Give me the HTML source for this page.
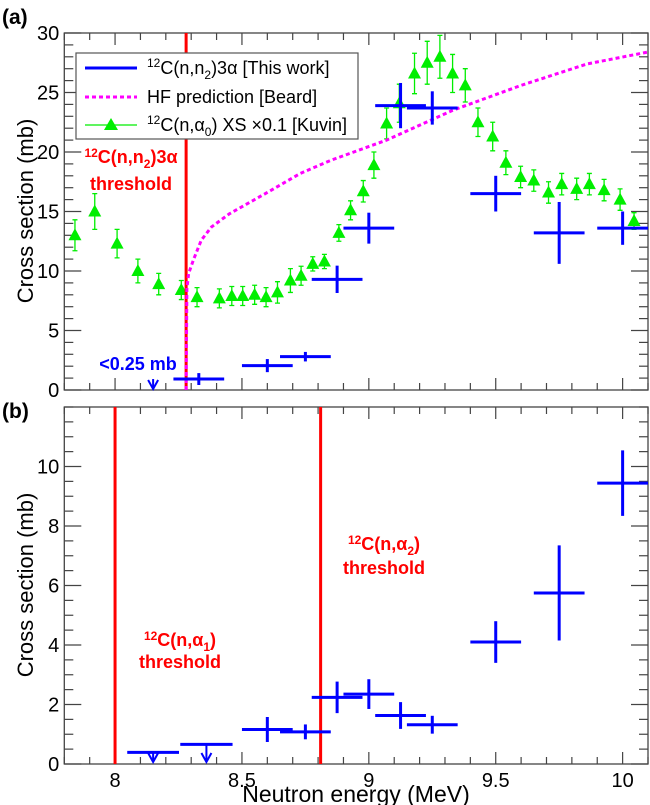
<!DOCTYPE html>
<html><head><meta charset="utf-8"><style>
html,body{margin:0;padding:0;background:#fff;}
svg{display:block;font-family:"Liberation Sans",Arial,sans-serif;}
</style></head><body>
<svg id="chart" width="650" height="805" viewBox="0 0 650 805" xmlns="http://www.w3.org/2000/svg">
<g id="pa"></g>
<g id="pb"></g>
<g id="txt">
<text x="2" y="24" font-size="21" font-weight="bold">(a)</text>
<text x="2" y="418" font-size="21" font-weight="bold">(b)</text>
<text x="356" y="802" font-size="23" text-anchor="middle">Neutron energy (MeV)</text>
<text transform="translate(33,211) rotate(-90)" font-size="22" text-anchor="middle">Cross section (mb)</text>
<text transform="translate(33,585) rotate(-90)" font-size="22" text-anchor="middle">Cross section (mb)</text>
<text x="131" y="163" font-size="18" font-weight="bold" fill="#ff0000" text-anchor="middle"><tspan font-size="12" dy="-6">12</tspan><tspan dy="6">C(n,n</tspan><tspan font-size="12" dy="5">2</tspan><tspan dy="-5">)3α</tspan></text>
<text x="131" y="190" font-size="18" font-weight="bold" fill="#ff0000" text-anchor="middle">threshold</text>
<text x="138" y="370" font-size="18" font-weight="bold" fill="#0000ff" text-anchor="middle">&lt;0.25 mb</text>
<text x="180" y="646" font-size="18" font-weight="bold" fill="#ff0000" text-anchor="middle"><tspan font-size="12" dy="-6">12</tspan><tspan dy="6">C(n,α</tspan><tspan font-size="12" dy="5">1</tspan><tspan dy="-5">)</tspan></text>
<text x="180" y="668" font-size="18" font-weight="bold" fill="#ff0000" text-anchor="middle">threshold</text>
<text x="384" y="550" font-size="18" font-weight="bold" fill="#ff0000" text-anchor="middle"><tspan font-size="12" dy="-6">12</tspan><tspan dy="6">C(n,α</tspan><tspan font-size="12" dy="5">2</tspan><tspan dy="-5">)</tspan></text>
<text x="384" y="574" font-size="18" font-weight="bold" fill="#ff0000" text-anchor="middle">threshold</text>
</g>
<g>
<rect x="76" y="53" width="282" height="86" fill="#fff" stroke="#555" stroke-width="1.2"/>
<line x1="85" y1="68" x2="137" y2="68" stroke="#0000ff" stroke-width="3"/>
<text x="147" y="74" font-size="18"><tspan font-size="12" dy="-7">12</tspan><tspan dy="7">C(n,n</tspan><tspan font-size="12" dy="5">2</tspan><tspan dy="-5">)3α [This work]</tspan></text>
<line x1="85" y1="97" x2="137" y2="97" stroke="#ff00ff" stroke-width="3" stroke-dasharray="4,3"/>
<text x="147" y="103" font-size="18">HF prediction [Beard]</text>
<line x1="85" y1="125" x2="137" y2="125" stroke="#00ee00" stroke-width="1.2"/>
<polygon points="111,118 104,130 118,130" fill="#00ee00"/>
<text x="147" y="131" font-size="18"><tspan font-size="12" dy="-7">12</tspan><tspan dy="7">C(n,α</tspan><tspan font-size="12" dy="5">0</tspan><tspan dy="-5">) XS ×0.1 [Kuvin]</tspan></text>
</g>
</svg>
<script>
const kuvinE=[7.842,7.92,8.008,8.09,8.172,8.261,8.323,8.411,8.46,8.503,8.55,8.595,8.64,8.691,8.733,8.779,8.825,8.882,8.928,8.978,9.02,9.07,9.12,9.18,9.23,9.28,9.33,9.38,9.43,9.488,9.54,9.598,9.65,9.708,9.76,9.819,9.869,9.927,9.99,10.045];
const kuvinXS=[13.0,15.0,12.3,10.0,8.9,8.4,7.8,7.7,7.9,7.9,8.0,7.8,8.2,9.2,9.6,10.6,10.8,13.2,15.1,16.7,18.9,22.4,24.1,26.6,27.5,28.0,26.6,25.6,22.5,21.3,19.1,17.9,17.6,16.6,17.3,16.9,17.3,16.8,16.0,14.2];
const kuvinErr=[1.3,1.5,1.2,1.0,0.9,0.8,0.8,0.8,0.8,0.8,0.8,0.8,0.9,1.0,0.8,0.6,0.6,0.7,0.8,0.9,1.1,1.3,1.6,1.7,1.8,1.8,1.6,1.4,1.2,1.2,1.0,0.9,0.9,0.9,0.9,0.9,0.9,0.9,0.9,0.7];
const aE=[8.33,8.6,8.75,8.875,9.0,9.125,9.25,9.5,9.75,10.0];
const aHW=[0.1,0.1,0.1,0.1,0.1,0.1,0.1,0.1,0.1,0.1];
const aXS=[0.92,2.05,2.8,9.3,13.6,23.9,23.7,16.5,13.2,13.6];
const aErr=[0.5,0.55,0.4,1.15,1.3,1.9,1.4,1.5,2.6,1.4];
const aLimitE=[8.15];
const aLimitXS=[0.25];
const hfE=[8.28,8.283,8.29,8.31,8.34,8.38,8.45,8.6,8.73,8.85,9.07,9.33,9.6,9.86,10.1];
const hfXS=[0,8.5,9.8,11.0,12.6,13.7,14.8,16.6,18.2,19.3,21.0,23.5,25.6,27.4,28.4];
const bE=[8.6,8.75,8.875,9.0,9.125,9.25,9.5,9.75,10.0];
const bHW=[0.1,0.1,0.1,0.1,0.1,0.1,0.1,0.1,0.1];
const bXS=[1.16,1.08,2.24,2.35,1.63,1.32,4.1,5.75,9.44];
const bErr=[0.42,0.25,0.53,0.5,0.45,0.3,0.7,1.6,1.1];
const bLimE=[8.15,8.36];
const bLimHW=[0.102,0.103];
const bLimXS=[0.39,0.66];
const thrA=[8.28];
const thrB=[8.0,8.81];
const xTicks=[8,8.5,9,9.5,10];
const xTickLabels=["8","8.5","9","9.5","10"];
const yTicksA=[0,5,10,15,20,25,30];
const yTicksB=[0,2,4,6,8,10];

const NS="http://www.w3.org/2000/svg";
const X0=64.3,X1=648,EMIN=7.8,EMAX=10.1;
function sx(e){return X0+(e-EMIN)/(EMAX-EMIN)*(X1-X0);}
const A={top:33,bot:390,max:30,minor:1};
const B={top:407,bot:764,max:12,minor:0.5};
function sy(P,v){return P.bot-v/P.max*(P.bot-P.top);}
function mk(g,tag,attrs){const el=document.createElementNS(NS,tag);for(const k in attrs)el.setAttribute(k,attrs[k]);g.appendChild(el);return el;}

function frame(g,P,yt,showX){
  const r=mk(g,'rect',{x:X0,y:P.top,width:X1-X0,height:P.bot-P.top,fill:'none',stroke:'#444','stroke-width':1.3});
  
  
  for(let e=7.8;e<=10.1001;e+=0.1){
    const x=sx(e);const maj=Math.abs(e*2-Math.round(e*2))<1e-6;const L=maj?12:7;
    const t1=mk(g,'line',{x1:x,y1:P.bot,x2:x,y2:P.bot-L,stroke:'#444','stroke-width':1.2});
    
    
    const t2=mk(g,'line',{x1:x,y1:P.top,x2:x,y2:P.top+L,stroke:'#444','stroke-width':1.2});
    
    
  }
  for(let v=0;v<=P.max+1e-6;v+=P.minor){
    const y=sy(P,v);const maj=yt.some(t=>Math.abs(t-v)<1e-6);const L=maj?17:9;
    const t1=mk(g,'line',{x1:X0,y1:y,x2:X0+L,y2:y,stroke:'#444','stroke-width':1.2});
    
    
    const t2=mk(g,'line',{x1:X1,y1:y,x2:X1-L,y2:y,stroke:'#444','stroke-width':1.2});
    
    
  }
  yt.forEach(v=>{
    const t=mk(g,'text',{x:X0-5,y:sy(P,v)+7,'font-size':20,'text-anchor':'end'});
    t.textContent=String(v);
    
    
  });
  if(showX){xTicks.forEach((e,i)=>{
    const t=mk(g,'text',{x:sx(e),y:P.bot+23,'font-size':20,'text-anchor':'middle'});
    t.textContent=xTickLabels[i];
    
    
  });}
}
function thr(g,P,arr){arr.forEach(e=>{
  const l=mk(g,'line',{x1:sx(e),y1:P.top,x2:sx(e),y2:P.bot,stroke:'#ff0000','stroke-width':3});
  
  
});}
function cross(g,P,E,HW,V,ER){E.forEach((e,i)=>{
  const y=sy(P,V[i]);
  const h=mk(g,'line',{x1:sx(e-HW[i]),y1:y,x2:sx(e+HW[i]),y2:y,stroke:'#0000ff','stroke-width':3});
  
  
  const v=mk(g,'line',{x1:sx(e),y1:sy(P,V[i]-ER[i]),x2:sx(e),y2:sy(P,V[i]+ER[i]),stroke:'#0000ff','stroke-width':3});
  
  
});}
function arrow(g,x,y1,y2){
  const a=mk(g,'line',{x1:x,y1:y1,x2:x,y2:y2,stroke:'#0000ff','stroke-width':2});
  
  
  const h=mk(g,'polyline',{points:`${x-5},${y2-9} ${x},${y2} ${x+5},${y2-9}`,fill:'none',stroke:'#0000ff','stroke-width':2});
  
  
}

const ga=document.getElementById('pa');
frame(ga,A,yTicksA,false);
kuvinE.forEach((e,i)=>{
  const x=sx(e),y=sy(A,kuvinXS[i]),y1=sy(A,kuvinXS[i]-kuvinErr[i]),y2=sy(A,kuvinXS[i]+kuvinErr[i]);
  const l=mk(ga,'path',{d:`M${x},${y1}V${y2}M${x-2.5},${y1}h5M${x-2.5},${y2}h5`,stroke:'#00ee00','stroke-width':1.3,fill:'none'});
  
  
  const p=mk(ga,'polygon',{points:`${x},${y-7} ${x-6.5},${y+5} ${x+6.5},${y+5}`,fill:'#00ee00'});
  
  
});
thr(ga,A,thrA);
const hf=mk(ga,'polyline',{points:hfE.map((e,i)=>sx(e)+','+sy(A,hfXS[i])).join(' '),fill:'none',stroke:'#ff00ff','stroke-width':3,'stroke-dasharray':'4,3'});


cross(ga,A,aE,aHW,aXS,aErr);
aLimitE.forEach((e,i)=>arrow(ga,sx(e),sy(A,aLimitXS[i])-8,A.bot-1));

const gb=document.getElementById('pb');
frame(gb,B,yTicksB,true);
thr(gb,B,thrB);
bLimE.forEach((e,i)=>{
  const y=sy(B,bLimXS[i]);
  const h=mk(gb,'line',{x1:sx(e-bLimHW[i]),y1:y,x2:sx(e+bLimHW[i]),y2:y,stroke:'#0000ff','stroke-width':3});
  
  
  arrow(gb,sx(e),y,B.bot-2);
});
cross(gb,B,bE,bHW,bXS,bErr);
</script>
</body></html>
